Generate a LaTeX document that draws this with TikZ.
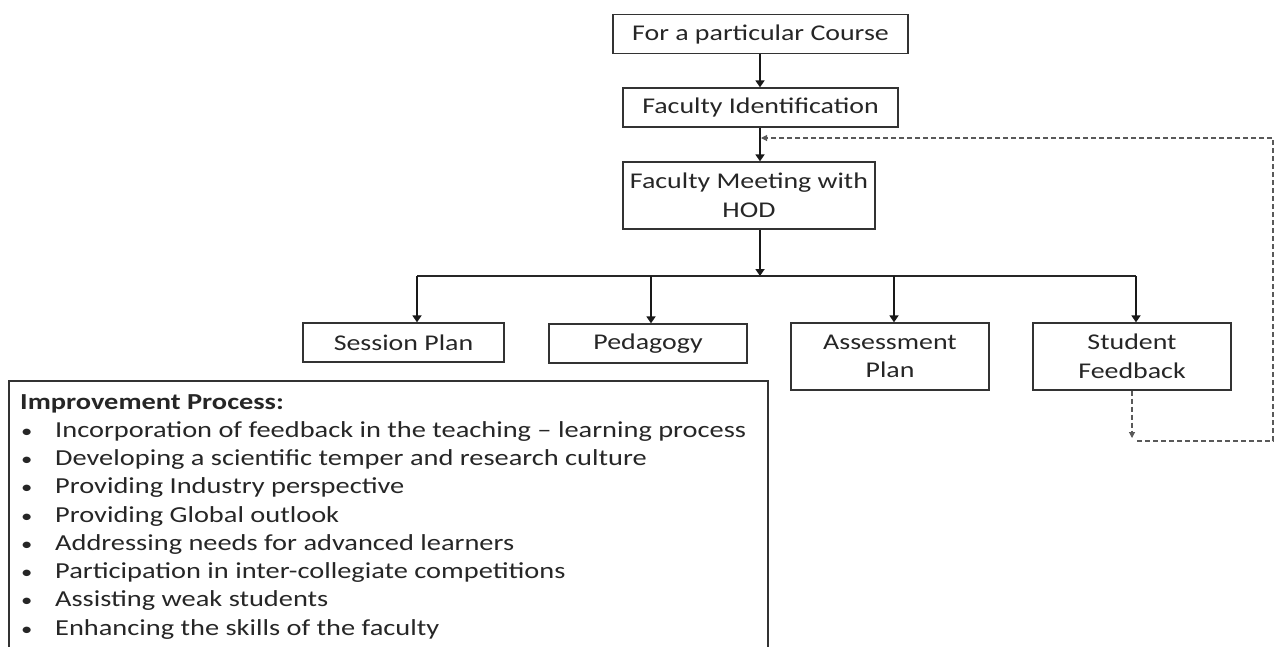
\documentclass[tikz,border=0pt]{standalone}
\usepackage{fontspec}
\setmainfont{Carlito}[FakeStretch=1.24]
\usetikzlibrary{positioning,arrows.meta}

\newcommand{\bitem}[1]{\makebox[35pt][l]{\hspace{1pt}\scalebox{0.8}{\textbullet}}#1\\}

\begin{document}
\begin{tikzpicture}[x=1pt,y=-1pt,
                    flowbox/.style={draw=black!80, line width=1.3pt, inner sep=2pt, align=center,
                                    font=\fontsize{22.5}{28.5}\selectfont, text=black!85},
                    listtext/.style={anchor=north west, align=left, inner sep=0pt,
                                    font=\fontsize{22.9}{28.25}\selectfont, text=black!85},
                    frame/.style={draw=black!80, line width=1.3pt},
                    flow/.style={-{Triangle[width=9pt,length=7pt]}, line width=2.6pt, black!90},
                    loop/.style={dashed, line width=1.1pt, black!65, dash pattern=on 5pt off 3pt}]
    \useasboundingbox (0,0) rectangle (1277,646);
    % nodes
    \node[flowbox, minimum width=295pt, minimum height=39pt] (course)   at (760.5,34)  {For a particular Course};
    \node[flowbox, minimum width=275pt, minimum height=39pt] (ident)    at (760.5,107.5) {Faculty Identification};
    \node[flowbox, minimum width=252pt, minimum height=67pt] (meet)     at (749,195.5) {Faculty Meeting with\\HOD};
    \node[flowbox, minimum width=201pt, minimum height=39pt] (session)  at (403.5,342.5) {Session Plan};
    \node[flowbox, minimum width=198pt, minimum height=39pt] (peda)     at (648,343.5) {Pedagogy};
    \node[flowbox, minimum width=198pt, minimum height=67pt] (assess)   at (890,356.5) {Assessment\\Plan};
    \node[flowbox, minimum width=198pt, minimum height=67pt] (feedback) at (1132,356.5) {Student\\Feedback};
    \node[listtext] (improve) at (20,394) {\textbf{Improvement Process:}\\
        \bitem{Incorporation of feedback in the teaching -- learning process}
        \bitem{Developing a scientific temper and research culture}
        \bitem{Providing Industry perspective}
        \bitem{Providing Global outlook}
        \bitem{Addressing needs for advanced learners}
        \bitem{Participation in inter-collegiate competitions}
        \bitem{Assisting weak students}
        \bitem{Enhancing the skills of the faculty}};
    % box round the list, open at the foot
    \draw[frame] (9,660) |- (768,381) -- (768,660);
    % branch points
    \coordinate (split) at (760,276);
    \coordinate (b1) at (417,276);
    \coordinate (b2) at (651,276);
    \coordinate (b3) at (894,276);
    \coordinate (b4) at (1136,276);
    \coordinate (fbend) at (1132,438);
    \coordinate (loopbl) at (1137,441);
    \coordinate (loopbr) at (1273,441);
    \coordinate (looptr) at (1273,138);
    \coordinate (ret) at (761,138);
    % lines
    \draw[flow] (course.south -| split) -- (ident.north -| split);
    \draw[flow] (ident.south -| split) -- (meet.north -| split);
    \draw[flow] (meet.south -| split) -- (split);
    \draw[line width=1.4pt, black!85] (b1) -- (b4);
    \draw[flow] (b1) -- (b1 |- session.north);
    \draw[flow] (b2) -- (b2 |- peda.north);
    \draw[flow] (b3) -- (b3 |- assess.north);
    \draw[flow] (b4) -- (b4 |- feedback.north);
    \draw[loop, -{Triangle[width=6pt,length=6pt]}] (feedback.south -| fbend) -- (fbend);
    \draw[loop, -{Triangle[width=6pt,length=6pt]}] (loopbl) -- (loopbr) -- (looptr) -- (ret);
\end{tikzpicture}
\end{document}
